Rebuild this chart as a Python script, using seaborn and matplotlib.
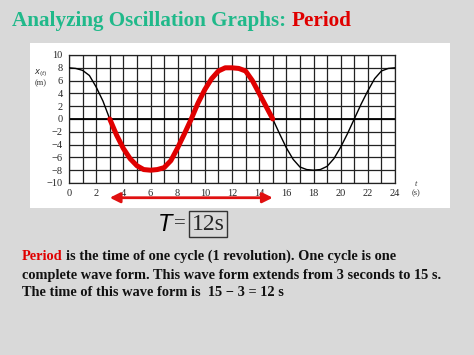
import numpy as np
import pandas as pd
import seaborn as sns
import matplotlib.pyplot as plt
from matplotlib.patches import Rectangle

# readings from the graph: time (s) and position (m)
t_vals = [0, 0.5, 1, 1.5, 2, 2.5, 3, 3.5, 4, 4.5, 5, 5.5, 6, 6.5, 7, 7.5, 8, 8.5,
          9, 9.5, 10, 10.5, 11, 11.5, 12, 12.5, 13, 13.5, 14, 14.5, 15, 15.5, 16,
          16.5, 17, 17.5, 18, 18.5, 19, 19.5, 20, 20.5, 21, 21.5, 22, 22.5, 23, 23.5, 24]
x_vals = [8, 7.9, 7.6, 6.8, 5.0, 2.8, 0, -2.5, -4.6, -6.2, -7.3, -7.9, -8, -7.9, -7.6,
          -6.5, -4.5, -2.3, 0, 2.5, 4.6, 6.3, 7.5, 8, 8, 7.9, 7.5, 6.0, 4.0, 2.0, 0,
          -2.3, -4.5, -6.3, -7.5, -7.9, -8, -7.9, -7.4, -6.2, -4.4, -2.3, 0, 2.3, 4.4,
          6.3, 7.5, 7.9, 8]
period_start, period_end = 3, 15
x_ticks = list(range(0, 25, 2))
y_ticks = list(range(-10, 11, 2))

df = pd.DataFrame({'t': t_vals, 'x': x_vals})
seg = df[(df['t'] >= period_start) & (df['t'] <= period_end)]

sns.set_style('white')
plt.rcParams['font.family'] = ['Liberation Serif', 'DejaVu Serif']

W, H = 474, 355
fig = plt.figure(figsize=(W / 100, H / 100), dpi=100, facecolor='#d9d9d9')

# white panel behind the graph
fig.patches.append(Rectangle((30 / W, 1 - 208 / H), 420 / W, 165 / H,
                             transform=fig.transFigure, facecolor='white',
                             edgecolor='none', zorder=-5))

ax = fig.add_axes([69 / W, 1 - 183 / H, 326 / W, 128 / H])
ax.set_facecolor('white')
ax.set_xlim(0, 24)
ax.set_ylim(-10, 10)
ax.set_xticks(x_ticks)
ax.set_xticks(range(0, 25), minor=True)
ax.set_yticks(y_ticks)
ax.set_xticklabels([str(v) for v in x_ticks], fontsize=7.5)
ax.set_yticklabels([str(v).replace('-', '\u2212') for v in y_ticks], fontsize=7.5)
ax.tick_params(which='both', direction='out', length=3, width=0.8, color='black', pad=1.5)
ax.tick_params(which='minor', labelbottom=False)
ax.grid(True, which='both', axis='x', color='#222222', lw=0.9)
ax.grid(True, which='major', axis='y', color='#222222', lw=0.9)
ax.set_axisbelow(True)
for s in ax.spines.values():
    s.set_color('#222222')
    s.set_linewidth(0.9)
ax.axhline(0, color='black', lw=1.3, zorder=1)

sns.lineplot(data=df, x='t', y='x', ax=ax, color='black', lw=1.0, estimator=None, zorder=3)
sns.lineplot(data=seg, x='t', y='x', ax=ax, color='#e00000', lw=3.6, estimator=None, zorder=4)
ax.set_xlabel('')
ax.set_ylabel('')

# axis labels
fig.text(41 / W, 1 - 73 / H, r'$x_{(t)}$', fontsize=6, ha='center', va='center', color='#333333')
fig.text(41 / W, 1 - 83 / H, '(m)', fontsize=6, ha='center', va='center', color='#333333')
fig.text(416 / W, 1 - 184 / H, 't', fontsize=6, style='italic', ha='center', va='center', color='#333333')
fig.text(416 / W, 1 - 193 / H, '(s)', fontsize=6, ha='center', va='center', color='#333333')

# double arrow marking the period
ax.annotate('', xy=(period_start, -12.3), xytext=(period_end, -12.3),
            xycoords='data', annotation_clip=False,
            arrowprops=dict(arrowstyle='<|-|>', color='#e01010', lw=2.0,
                            mutation_scale=15, shrinkA=0, shrinkB=0))

# T = 12 s
fig.text(165 / W, 1 - 224 / H, 'T', family='Liberation Sans', style='italic',
         fontsize=17, ha='center', va='center', color='black')
fig.text(180 / W, 1 - 224 / H, '=', fontsize=15, ha='center', va='center')
fig.text(208 / W, 1 - 224 / H, '12s', fontsize=17, ha='center', va='center',
         bbox=dict(boxstyle='square,pad=0.12', facecolor='none', edgecolor='#333333', lw=1.0))

# title
t1 = fig.text(12 / W, 1 - 21 / H, 'Analyzing Oscillation Graphs: ', fontsize=15.2,
              weight='bold', color='#20b98a', va='center', ha='left')
ax.annotate('Period', xy=(1, 0.5), xycoords=t1, fontsize=15.2, weight='bold',
            color='#e00000', va='center', ha='left', annotation_clip=False)

# body text
fs = 10.4
b1 = fig.text(22 / W, 1 - 256 / H, 'Period', fontsize=fs, weight='bold',
              color='#e00000', va='center', ha='left')
ax.annotate('is the time of one cycle (1 revolution). One cycle is one',
            xy=(1, 0.5), xycoords=b1, xytext=(2.6, 0), textcoords='offset points',
            fontsize=fs, weight='bold', color='#111111',
            va='center', ha='left', annotation_clip=False)
fig.text(22 / W, 1 - 275 / H, 'complete wave form. This wave form extends from 3 seconds to 15 s.',
         fontsize=fs, weight='bold', color='#111111', va='center', ha='left')
fig.text(22 / W, 1 - 293 / H, 'The time of this wave form is  15 \u2212 3 = 12 s',
         fontsize=fs, weight='bold', color='#111111', va='center', ha='left')

fig.savefig('out.png', dpi=100, facecolor=fig.get_facecolor())
